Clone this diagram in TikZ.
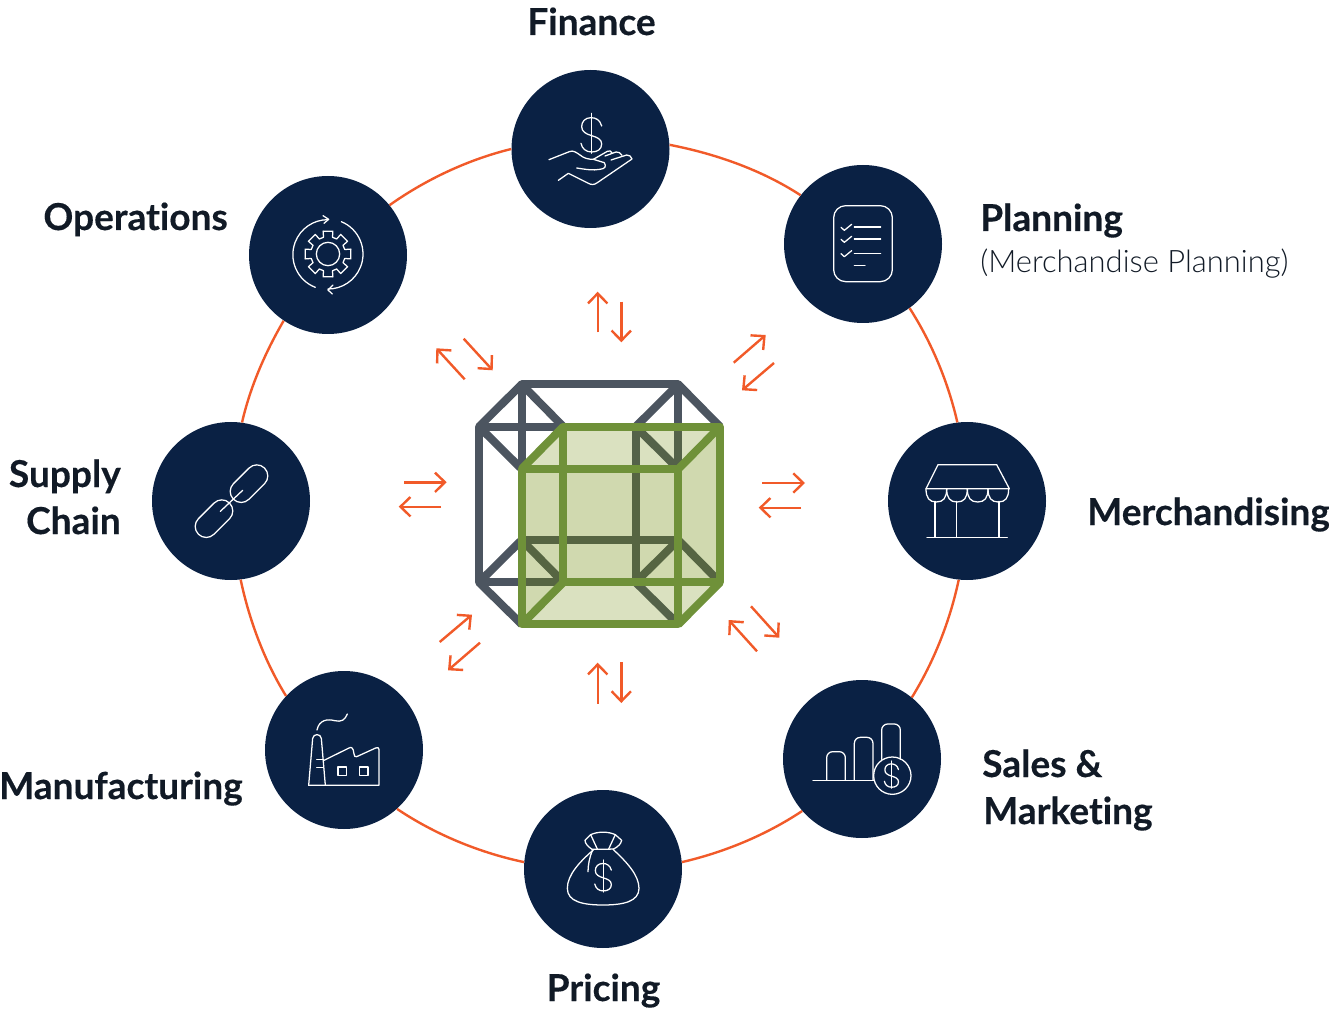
\documentclass[tikz,border=0pt]{standalone}
\usepackage{fontspec}
\setmainfont{Lato}[Ligatures=NoCommon,BoldFeatures={FakeBold=0.35}]
\newfontfamily\sublight{Lato Light}[Ligatures=NoCommon]
\usetikzlibrary{arrows.meta}

\definecolor{navy}{HTML}{0A2144}
\definecolor{ringorange}{HTML}{F15A29}
\definecolor{cubegray}{HTML}{4C5560}
\definecolor{cubegreen}{HTML}{6F9139}
\definecolor{faceolive}{HTML}{6C8905}
\definecolor{ink}{HTML}{111A26}

\tikzset{
  hub/.style={circle,fill=navy,minimum size=118.5pt,inner sep=0pt},
  lbl/.style={font=\bfseries\fontsize{27.8}{35.25}\selectfont,text=ink,inner sep=0pt},
  ringline/.style={draw=ringorange,line width=1.8pt,looseness=0.85},
  flow/.style={draw=ringorange,line width=1.8pt,-{Straight Barb[length=7.5pt,width=14.5pt]}},
  zoomed/.style={x=0.25pt,y=-0.25pt},
  icon/.style={zoomed,color=white,line width=0.95pt,line join=round,line cap=round},
  dollar/.pic={
    \draw (30,-27) .. controls (25,-45) and (13,-52) .. (-2,-52) .. controls (-20,-52) and (-30,-40) .. (-30,-25)
      .. controls (-30,-10) and (-17,-3) .. (0,2) .. controls (17,7) and (30,13) .. (30,27)
      .. controls (30,43) and (17,51) .. (0,51) .. controls (-17,51) and (-29,41) .. (-32,25);
    \draw (0,-65) -- (0,55);
  }
}

\begin{document}
\begin{tikzpicture}[x=0.75pt,y=-0.75pt]
  \useasboundingbox (0,0) rectangle (1329,1009);

  % Hubs on the ring
  \node[hub] (fin) at (590.5,149) {};
  \node[hub] (plan) at (863,244) {};
  \node[hub] (merch) at (967,501) {};
  \node[hub] (sales) at (862,759) {};
  \node[hub] (price) at (603,869) {};
  \node[hub] (manuf) at (344,750) {};
  \node[hub] (supply) at (231,501) {};
  \node[hub] (ops) at (328,255) {};

  % Ring pieces between the hubs
  \draw[ringline] (fin.3) to[out=-11,in=147] (plan.142.7);
  \draw[ringline] (plan.-54) to[out=-57.3,in=102.9] (merch.97.2);
  \draw[ringline] (merch.-96.5) to[out=-102,in=58.3] (sales.51.1);
  \draw[ringline] (sales.-139.2) to[out=-146.4,in=13] (price.5);
  \draw[ringline] (price.175) to[out=168.1,in=-33.9] (manuf.-48.7);
  \draw[ringline] (manuf.137.1) to[out=121.7,in=-78] (supply.-83.5);
  \draw[ringline] (supply.82.1) to[out=77.1,in=-120.2] (ops.-124);
  \draw[ringline] (ops.39.8) to[out=35.3,in=-166.2] (fin.180);

  % Labels
  \node[lbl,anchor=base] (finlbl) at (591.5,35) {Finance};
  \node[lbl,anchor=base west] (planlbl) at (980,231) {Planning};
  \node[anchor=base west,inner sep=0pt,text=ink,font=\sublight\fontsize{23.2}{27}\selectfont] (planlbl2) at (980,273) {(Merchandise Planning)};
  \node[lbl,anchor=base west] (merchlbl) at (1087,525) {Merchandising};
  \node[lbl,anchor=base west] (saleslbl) at (982,777) {Sales \&};
  \node[lbl,anchor=base west] (saleslbl2) at (983,824) {Marketing};
  \node[lbl,anchor=base] (pricelbl) at (603.5,1001) {Pricing};
  \node[lbl,anchor=base east] (manuflbl) at (243,799) {Manufacturing};
  \node[lbl,anchor=base east] (supplylbl) at (121,487) {Supply};
  \node[lbl,anchor=base east] (supplylbl2) at (121,534) {Chain};
  \node[lbl,anchor=base east] (opslbl) at (228,230) {Operations};

  % Arrow pairs round the cube
  \foreach \nm/\ax/\ay/\bx/\by in {
      n1/597.7/332.3/597.7/291.7, n2/621.3/301.7/621.3/342.3,
      nw1/464.7/379.3/436.3/348.3, nw2/463.7/338.7/492.7/370.3,
      ne1/733.7/362.7/765.7/335, ne2/774/363/742/390.3,
      w1/404/482.3/446.7/482.3, w2/441/506.7/398.7/506.7,
      e1/762.3/483/805/483, e2/801/507.7/758.7/507.7,
      sw1/439.7/642/472/614.7, sw2/480/642.7/448/670.3,
      s1/597.7/703.7/597.7/662.7, s2/621.3/662/621.3/703,
      se1/757/651.3/728.7/620, se2/751/606.3/779.3/637.7}{
    \coordinate (\nm a) at (\ax,\ay);
    \coordinate (\nm b) at (\bx,\by);
    \draw[flow] (\nm a) -- (\nm b);
  }

  % Cube: gray part, green faces, green edges
  \begin{scope}[shift={(460,370)},zoomed,line join=round]
    \coordinate (g1) at (57,170); \coordinate (g2) at (527,170);
    \coordinate (g3) at (527,637); \coordinate (g4) at (57,637);
    \coordinate (h1) at (185,43); \coordinate (h2) at (655,43);
    \coordinate (h3) at (655,510); \coordinate (h4) at (185,510);
    \coordinate (f1) at (185,297); \coordinate (f2) at (655,297);
    \coordinate (f3) at (655,763); \coordinate (f4) at (185,763);
    \coordinate (b1) at (310,170); \coordinate (b2) at (780,170);
    \coordinate (b3) at (780,637); \coordinate (b4) at (310,637);
    \draw[cubegray,line width=6pt] (g1) -- (g2) -- (g3) -- (g4) -- cycle;
    \draw[cubegray,line width=6pt] (h1) -- (h2) -- (h3) -- (h4) -- cycle;
    \foreach \i in {1,2,3,4}{
      \draw[cubegray,line width=6pt] (g\i) -- (h\i);
      \draw[cubegray,line width=6pt] (g\i) -- (f\i);
      \draw[cubegray,line width=6pt] (h\i) -- (b\i);
    }
    \fill[faceolive,opacity=0.32] (f1) -- (f2) -- (b2) -- (b3) -- (b4) -- (f4) -- cycle;
    \fill[faceolive,opacity=0.25] (f1) -- (b1) -- (b2) -- (f2) -- cycle;
    \fill[faceolive,opacity=0.25] (b4) -- (b3) -- (f3) -- (f4) -- cycle;
    \draw[cubegreen,line width=6pt] (f1) -- (f2) -- (f3) -- (f4) -- cycle;
    \draw[cubegreen,line width=6pt] (b1) -- (b2) -- (b3) -- (b4) -- cycle;
    \foreach \i in {1,2,3,4}{
      \draw[cubegreen,line width=6pt] (f\i) -- (b\i);
    }
  \end{scope}

  % Finance icon
  \begin{scope}[shift={(510,70)},icon]
    \pic at (245,195) {dollar};
    \draw (117,269) -- (178,245) .. controls (190,240) and (198,247) .. (210,255)
      .. controls (222,265) and (235,268) .. (250,268) -- (283,278)
      .. controls (290,290) and (285,296) .. (270,298) .. controls (250,302) and (225,298) .. (200,294);
    \draw (250,268) -- (292,244) .. controls (298,240) and (304,243) .. (307,250);
    \draw (285,258) -- (318,246) .. controls (325,244) and (332,250) .. (336,256);
    \draw (303,270) -- (350,255) .. controls (358,254) and (364,260) .. (366,267) -- (262,338)
      .. controls (252,345) and (245,345) .. (235,340) -- (175,310) -- (145,331);
  \end{scope}

  % Planning icon
  \begin{scope}[shift={(785,165)},icon]
    \draw[rounded corners=9pt] (146,122) rectangle (322,350);
    \foreach \ty in {186,222,265}{
      \draw (168,\ty+1) -- (178,\ty+10) -- (200,\ty-8);
      \draw (208,\ty) -- (287,\ty);
    }
    \draw (208,301) -- (240,301);
  \end{scope}

  % Merchandising icon
  \begin{scope}[shift={(888,422)},icon]
    \draw (150,128) -- (326,128) -- (364,200) -- (114,200) -- cycle;
    \foreach \sx in {114,176,238,300}{
      \draw (\sx,200) .. controls (\sx,228) and (\sx+10,240) .. (\sx+31,240) .. controls (\sx+52,240) and (\sx+62,228) .. (\sx+62,200);
    }
    \foreach \px in {141,205,333}{
      \draw (\px,238) -- (\px,346);
    }
    \draw (117,346) -- (358,346);
  \end{scope}

  % Sales icon
  \begin{scope}[shift={(783,680)},icon]
    \draw (90,301) -- (272,301);
    \draw[rounded corners=4.5pt] (131,301) -- (131,215) -- (187,215) -- (187,301);
    \draw[rounded corners=4.5pt] (214,301) -- (214,172) -- (270,172) -- (270,301);
    \draw[rounded corners=4.5pt] (296,238) -- (296,132) -- (352,132) -- (352,238);
    \draw (328,287) circle[radius=56];
    \pic[scale=0.68] at (326,287) {dollar};
  \end{scope}

  % Pricing icon
  \begin{scope}[shift={(523,790)},icon]
    \draw (203,134) .. controls (225,124) and (255,124) .. (277,134);
    \draw (203,134) -- (223,177);
    \draw (277,134) -- (257,177);
    \draw (203,134) -- (186,151) .. controls (186,160) and (195,170) .. (207,178);
    \draw (277,134) -- (296,151) .. controls (294,162) and (285,170) .. (272,177);
    \draw (207,178) .. controls (230,178) and (250,178) .. (272,177);
    \draw (212,179) .. controls (170,215) and (133,255) .. (133,295) .. controls (133,335) and (180,345) .. (240,345)
      .. controls (300,345) and (348,335) .. (348,295) .. controls (348,255) and (310,215) .. (270,178);
    \draw (208,182) .. controls (200,200) and (195,225) .. (195,245);
    \pic[scale=0.8] at (241,262) {dollar};
  \end{scope}

  % Manufacturing icon
  \begin{scope}[shift={(264,670)},icon]
    \draw (134,346) -- (345,346) -- (345,238) .. controls (345,232) and (340,232) .. (335,234) -- (278,260)
      .. controls (273,262) and (271,258) .. (270,252) .. controls (268,232) and (262,230) .. (255,234) -- (178,272);
    \draw (134,346) -- (146,205) .. controls (148,190) and (170,190) .. (172,205) -- (184,346);
    \draw (158,268) -- (178,268);
    \draw (158,293) -- (178,293);
    \draw (222,291) rectangle (248,316);
    \draw (286,291) rectangle (312,316);
    \draw (159,180) .. controls (165,150) and (190,146) .. (212,152) .. controls (232,157) and (243,150) .. (250,132);
  \end{scope}

  % Supply chain icon
  \begin{scope}[shift={(152,422)},icon]
    \draw[rotate around={45:(291,185)},rounded corners=8.2pt] (225,152) rectangle (357,218);
    \draw[rotate around={45:(186,290)},rounded corners=8.2pt] (120,257) rectangle (252,323);
    \draw (205,268) -- (272,205);
  \end{scope}

  % Operations icon
  \begin{scope}[shift={(248,175)},icon]
    \draw (240,237) circle[radius=35];
    \draw (202,337) arc[start angle=111,end angle=270,radius=105];
    \draw (225,122) -- (242,133) -- (228,145);
    \draw (280,140) arc[start angle=-67.6,end angle=90,radius=105];
    \draw (255,330) -- (240,345) -- (253,357);
    \begin{scope}[shift={(240,237)}]
      \foreach \a in {0,45,...,315}{
        \draw (\a-12:70) -- (\a+12:70) -- (\a+15:52) -- (\a+30:52) -- (\a+33:70);
      }
    \end{scope}
  \end{scope}
\end{tikzpicture}
\end{document}
